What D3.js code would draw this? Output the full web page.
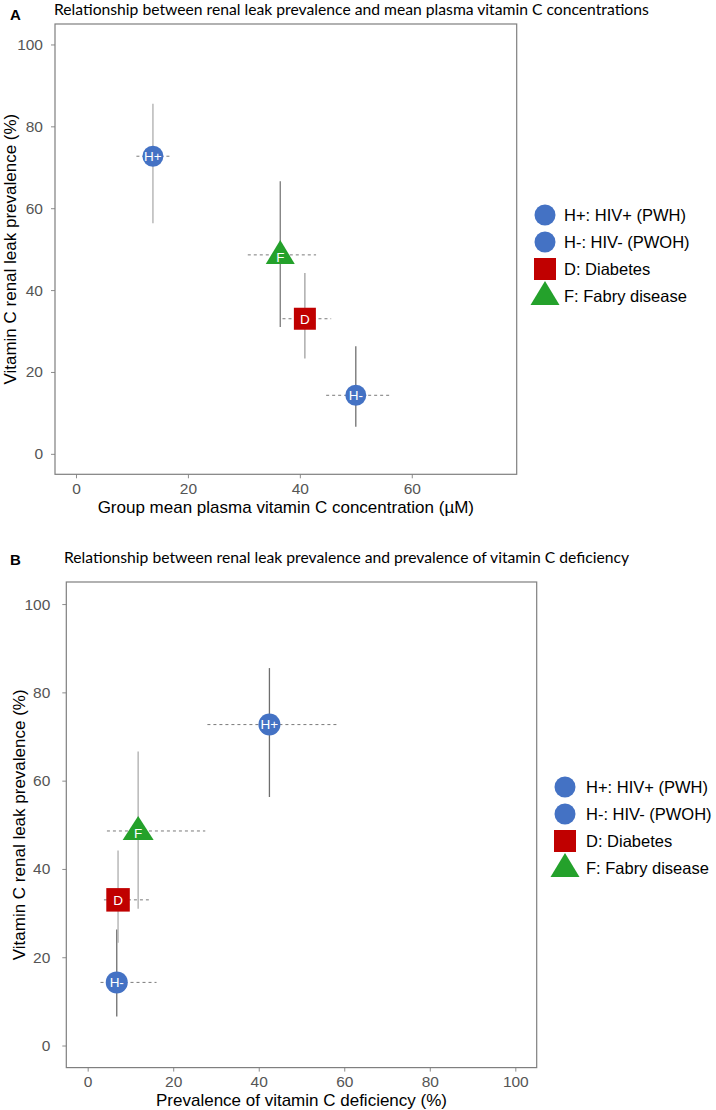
<!DOCTYPE html>
<html><head><meta charset="utf-8">
<script src="https://cdn.jsdelivr.net/npm/d3@7/dist/d3.min.js"></script>
<style>body{margin:0;background:#fff}svg{display:block}</style>
</head><body>
<svg id="chart" width="716" height="1110"></svg>
<script>
// ---- data ----
const groups = ["H+", "H-", "D", "F"];
const legendLabels = ["H+: HIV+ (PWH)", "H-: HIV- (PWOH)", "D: Diabetes", "F: Fabry disease"];
const shapes = ["circle", "circle", "square", "triangle"];
const leakPrev = [72.7, 14.3, 33.0, 48.6];
const leakLo   = [56.3, 6.6, 23.3, 31.0];
const leakHi   = [85.5, 26.3, 44.2, 66.6];
const plasmaC  = [13.75, 50.0, 40.9, 36.5];
const plasmaLo = [10.8, 44.7, 36.9, 30.7];
const plasmaHi = [16.7, 56.0, 45.6, 42.9];
const deficPrev = [42.5, 6.8, 7.1, 11.8];
const deficLo   = [28.0, 3.0, 3.8, 4.5];
const deficHi   = [58.5, 16.1, 14.3, 27.5];
const xTicksA = [0, 20, 40, 60];
const xTicksB = [0, 20, 40, 60, 80, 100];
const yTicks  = [0, 20, 40, 60, 80, 100];

// ---- style ----
const colors = {"circle": "#4472C4", "square": "#C00000", "triangle": "#24A12B"};
const sansA = "'Liberation Sans', Arial, sans-serif";
const titleFont = "Lato, 'Open Sans', sans-serif";

const svg = d3.select("#chart");

function panel(cfg) {
  const g = svg.append("g");
  const x = d3.scaleLinear().domain(cfg.xDomain).range([cfg.left, cfg.right]);
  const y = d3.scaleLinear().domain([-5, 105]).range([cfg.bottom, cfg.top]);

  // axes
  const xAxis = d3.axisBottom(x).tickValues(cfg.xTicks).tickSize(4).tickPadding(3).tickFormat(d3.format("d"));
  const yAxis = d3.axisLeft(y).tickValues(yTicks).tickSize(4).tickPadding(cfg.yPad).tickFormat(d3.format("d"));
  const gx = g.append("g").attr("transform", `translate(0,${cfg.bottom})`).call(xAxis);
  const gy = g.append("g").attr("transform", `translate(${cfg.left},0)`).call(yAxis);
  [gx, gy].forEach(a => {
    a.select(".domain").remove();
    a.selectAll(".tick line").attr("stroke", "#8c8c8c").attr("stroke-width", 1);
    a.selectAll(".tick text").attr("fill", "#555").style("font-family", sansA).style("font-size", "15.5px");
  });
  gx.selectAll(".tick text").attr("dy", "0.8em");

  // frame
  g.append("rect").attr("x", cfg.left).attr("y", cfg.top)
    .attr("width", cfg.right - cfg.left).attr("height", cfg.bottom - cfg.top)
    .attr("fill", "none").attr("stroke", "#7f7f7f").attr("stroke-width", 1.2);

  const idx = d3.range(groups.length);
  // vertical error bars
  g.selectAll("line.v").data(idx).join("line")
    .attr("x1", i => x(cfg.xv[i])).attr("x2", i => x(cfg.xv[i]))
    .attr("y1", i => y(leakLo[i])).attr("y2", i => y(leakHi[i]))
    .attr("stroke", i => cfg.vbar[i]).attr("stroke-width", 1.3);
  // horizontal dashed error bars
  g.selectAll("line.h").data(idx).join("line")
    .attr("x1", i => x(cfg.xlo[i])).attr("x2", i => x(cfg.xhi[i]))
    .attr("y1", i => y(leakPrev[i])).attr("y2", i => y(leakPrev[i]))
    .attr("stroke", "#7a7a7a").attr("stroke-width", 1).attr("stroke-dasharray", "3,3");

  // markers
  idx.forEach(i => {
    const cx = x(cfg.xv[i]), cy = y(leakPrev[i]);
    drawShape(g, shapes[i], cx, cy, cfg.sz);
    let ty = cy;
    if (shapes[i] === "triangle") ty = cy + 2;
    g.append("text").attr("x", cx).attr("y", ty).attr("dy", "0.36em")
      .attr("text-anchor", "middle").attr("fill", "#fff")
      .style("font-family", sansA).style("font-size", "13.5px").text(groups[i]);
  });

  // axis titles
  g.append("text").attr("x", (cfg.left + cfg.right) / 2).attr("y", cfg.xTitleY)
    .attr("text-anchor", "middle").attr("dy", "0.35em").attr("fill", "#000")
    .style("font-family", sansA).style("font-size", "17px").text(cfg.xTitle);
  g.append("text").attr("transform", `translate(${cfg.yTitleX},${(cfg.top + cfg.bottom) / 2}) rotate(-90)`)
    .attr("text-anchor", "middle").attr("dy", "0.35em").attr("fill", "#000")
    .style("font-family", sansA).style("font-size", "17px").text("Vitamin C renal leak prevalence (%)");

  // panel letter and title
  g.append("text").attr("x", cfg.letterX).attr("y", cfg.letterY).attr("dy", "0.35em")
    .style("font-family", sansA).style("font-weight", "bold").style("font-size", "15px").text(cfg.letter);
  g.append("text").attr("x", cfg.titleX).attr("y", cfg.titleY).attr("dy", "0.35em")
    .style("font-family", titleFont).style("font-size", "15.7px").text(cfg.title);

  // legend
  idx.forEach(i => {
    const ly = cfg.legY + i * cfg.legStep;
    drawShape(g, shapes[i], cfg.legX, ly, cfg.legSz);
    g.append("text").attr("x", cfg.legTextX).attr("y", ly).attr("dy", "0.36em")
      .style("font-family", sansA).style("font-size", "16.5px").attr("fill", "#000").text(legendLabels[i]);
  });
}

function drawShape(g, shape, cx, cy, s) {
  const col = colors[shape];
  if (shape === "circle") {
    g.append("circle").attr("cx", cx).attr("cy", cy).attr("r", s.r).attr("fill", col);
  } else if (shape === "square") {
    g.append("rect").attr("x", cx - s.sq / 2).attr("y", cy - s.sq / 2)
      .attr("width", s.sq).attr("height", s.sq).attr("fill", col);
  } else {
    const w = s.tw, h = s.th;
    g.append("path").attr("d", `M${cx},${cy - h * 0.62}L${cx + w / 2},${cy + h * 0.38}L${cx - w / 2},${cy + h * 0.38}Z`).attr("fill", col);
  }
}

panel({
  left: 55, right: 516.7, top: 24, bottom: 474.3,
  xDomain: [-3.75, 78.75], xTicks: xTicksA,
  xv: plasmaC, xlo: plasmaLo, xhi: plasmaHi,
  vbar: ["#adadad", "#707070", "#a0a0a0", "#7a7a7a"],
  yPad: 8,
  sz: {r: 10.5, sq: 22, tw: 29, th: 24},
  legSz: {r: 10.5, sq: 22, tw: 29, th: 24},
  xTitle: "Group mean plasma vitamin C concentration (\u00b5M)", xTitleY: 507,
  yTitleX: 10,
  letter: "A", letterX: 10, letterY: 15, titleX: 54, titleY: 10,
  title: "Relationship between renal leak prevalence and mean plasma vitamin C concentrations",
  legX: 545, legTextX: 564, legY: 215, legStep: 27
});

panel({
  left: 66.3, right: 536.7, top: 582, bottom: 1067.6,
  xDomain: [-5, 105], xTicks: xTicksB,
  xv: deficPrev, xlo: deficLo, xhi: deficHi,
  vbar: ["#6e6e6e", "#6e6e6e", "#adadad", "#adadad"],
  yPad: 12,
  sz: {r: 11, sq: 23.5, tw: 31, th: 24},
  legSz: {r: 10.5, sq: 22, tw: 29, th: 24},
  xTitle: "Prevalence of vitamin C deficiency (%)", xTitleY: 1100.5,
  yTitleX: 19,
  letter: "B", letterX: 10, letterY: 560, titleX: 64, titleY: 558,
  title: "Relationship between renal leak prevalence and prevalence of  vitamin C deficiency",
  legX: 565, legTextX: 586, legY: 787, legStep: 27
});
</script>
</body></html>
